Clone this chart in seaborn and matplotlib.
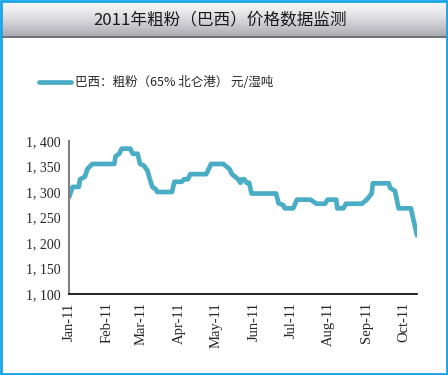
import pandas as pd
import seaborn as sns
import matplotlib.pyplot as plt
import matplotlib.patches as patches
import numpy as np

dates = ['2011-01-01', '2011-01-04', '2011-01-09', '2011-01-10', '2011-01-14', '2011-01-16',
         '2011-01-20', '2011-02-07', '2011-02-08', '2011-02-11', '2011-02-13', '2011-02-20',
         '2011-02-22', '2011-02-26', '2011-02-28', '2011-03-03', '2011-03-06', '2011-03-08',
         '2011-03-10', '2011-03-13', '2011-03-14', '2011-03-26', '2011-03-28', '2011-04-03',
         '2011-04-05', '2011-04-08', '2011-04-10', '2011-04-23', '2011-04-27', '2011-05-07',
         '2011-05-12', '2011-05-14', '2011-05-19', '2011-05-21', '2011-05-22', '2011-05-24',
         '2011-05-26', '2011-05-28', '2011-05-30', '2011-06-19', '2011-06-21', '2011-06-25',
         '2011-06-26', '2011-07-03', '2011-07-06', '2011-07-17', '2011-07-22', '2011-07-29',
         '2011-07-31', '2011-08-07', '2011-08-08', '2011-08-13', '2011-08-15', '2011-08-28',
         '2011-09-01', '2011-09-05', '2011-09-06', '2011-09-19', '2011-09-20', '2011-09-24',
         '2011-09-27', '2011-10-07', '2011-10-12']
prices = [1290, 1310, 1310, 1325, 1330, 1345,
          1355, 1355, 1370, 1375, 1385, 1385,
          1375, 1375, 1355, 1352, 1342, 1325,
          1310, 1305, 1300, 1300, 1320, 1320,
          1325, 1325, 1335, 1335, 1355, 1355,
          1345, 1335, 1325, 1318, 1325, 1325,
          1318, 1318, 1297, 1297, 1278, 1274,
          1268, 1268, 1285, 1285, 1277, 1277,
          1285, 1285, 1268, 1268, 1277, 1277,
          1285, 1297, 1317, 1317, 1308, 1302,
          1268, 1268, 1215]
month_ticks = ['2011-01-01', '2011-02-01', '2011-03-01', '2011-04-01', '2011-05-01',
               '2011-06-01', '2011-07-01', '2011-08-01', '2011-09-01', '2011-10-01']
month_labels = ['Jan-11', 'Feb-11', 'Mar-11', 'Apr-11', 'May-11',
                'Jun-11', 'Jul-11', 'Aug-11', 'Sep-11', 'Oct-11']
y_ticks = [1100, 1150, 1200, 1250, 1300, 1350, 1400]

title = '2011年粗粉（巴西）价格数据监测'
series_name = '巴西：粗粉（65% 北仑港） 元/湿吨'

sns.set_style('white')
plt.rcParams['font.family'] = ['Noto Sans CJK SC', 'DejaVu Sans']

df = pd.DataFrame({'date': pd.to_datetime(dates), 'price': prices})

W, H = 448, 375
fig = plt.figure(figsize=(W / 100, H / 100), dpi=100)

# gradient title bar
bar = fig.add_axes([0, 1 - 38 / H, 1, 38 / H])
grad = np.linspace(0, 1, 100).reshape(-1, 1)
top_c = np.array([0.97, 0.97, 0.97])
bot_c = np.array([0.64, 0.64, 0.67])
img = top_c + (bot_c - top_c) * grad[:, :, None] ** 1.5
bar.imshow(img, aspect='auto', extent=[0, 1, 0, 1])
bar.axhline(0.02, color='#6d6d75', lw=2)
bar.set_axis_off()
bar.text(0.491, 0.45, title, ha='center', va='center', fontsize=12, color='#1a1a1a')

ax = fig.add_axes([69 / W, 1 - 294 / H, (417 - 69) / W, (294 - 141) / H])
sns.lineplot(data=df, x='date', y='price', ax=ax, color='#4bacc6', linewidth=3.4,
             label=series_name)

ax.set_ylim(1100, 1400)
ax.set_xlim(pd.Timestamp('2011-01-01'), pd.Timestamp('2011-10-12'))
ax.set_yticks(y_ticks)
ax.set_yticklabels([f'1, {v - 1000:03d}' for v in y_ticks], family='Liberation Serif', fontsize=10)
ax.set_xticks(pd.to_datetime(month_ticks))
ax.set_xticklabels(month_labels, rotation=90, family='Liberation Serif', fontsize=10.5)
ax.tick_params(axis='both', direction='in', length=4, width=1, color='#555555', pad=6)
ax.set_xlabel('')
ax.set_ylabel('')
for s in ['top', 'right']:
    ax.spines[s].set_visible(False)
ax.spines['left'].set_color('#808080')
ax.spines['left'].set_linewidth(1.5)
ax.spines['bottom'].set_color('#000000')
ax.spines['bottom'].set_linewidth(1.2)

ax.legend(loc='center', bbox_to_anchor=((156 - 69) / 348, 1 + (141 - 83) / 153), frameon=False,
          fontsize=9, handlelength=2.6, handletextpad=0.3)

# blue frame around the whole picture
fig.patches.append(patches.Rectangle((0.002, 0.003), 0.995, 0.994, transform=fig.transFigure,
                                     fill=False, edgecolor='#18a4e6', linewidth=2))

fig.savefig('out.png', dpi=100)
